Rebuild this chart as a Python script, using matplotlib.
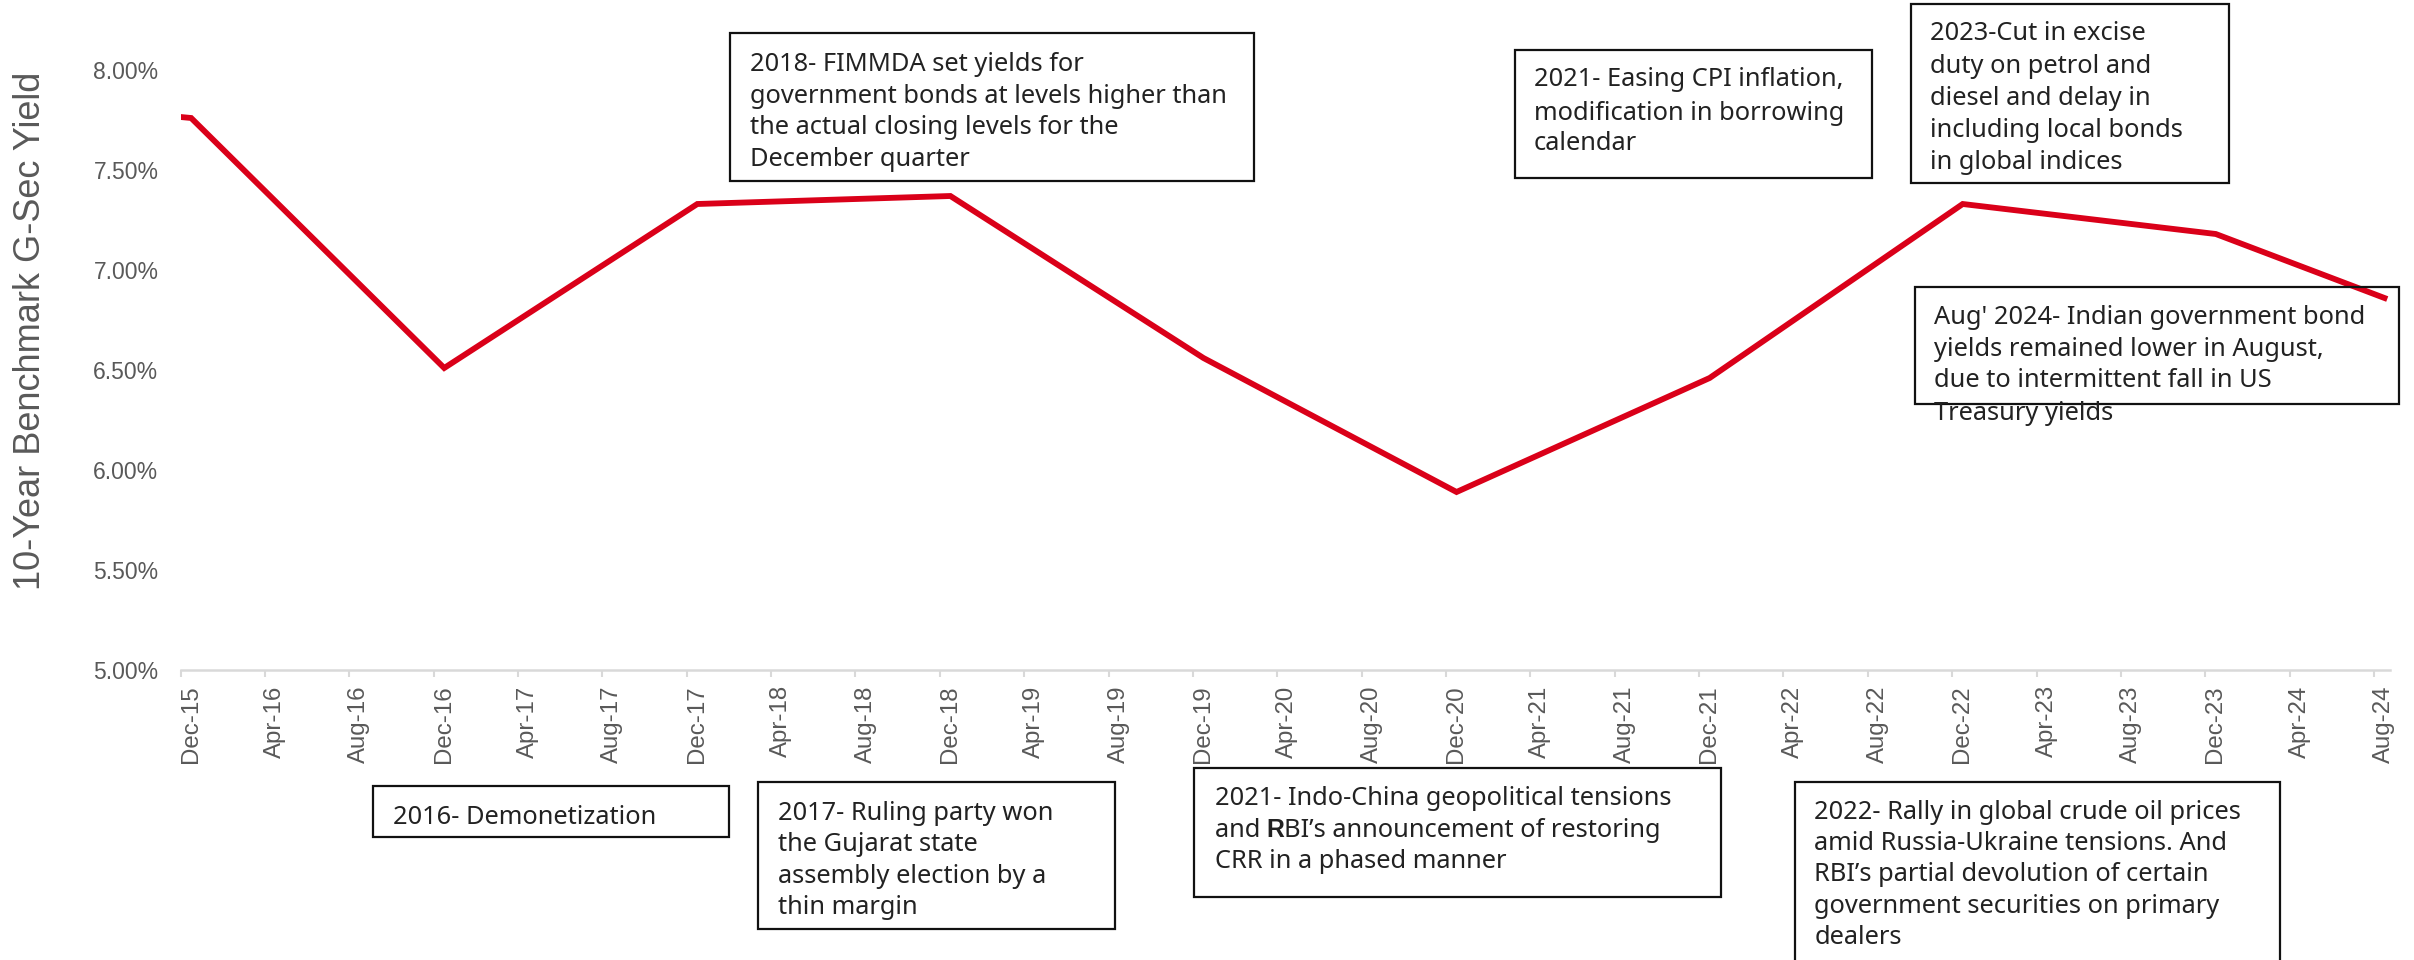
import matplotlib
matplotlib.use("Agg")
import matplotlib.pyplot as plt
from matplotlib.patches import Rectangle
from matplotlib.transforms import ScaledTranslation
import pandas as pd

# data (10-year benchmark G-Sec yield, %)
dates = ['Nov-15', 'Dec-15', 'Dec-16', 'Dec-17', 'Dec-18', 'Dec-19',
         'Dec-20', 'Dec-21', 'Dec-22', 'Dec-23', 'Aug-24']
yields = [7.77, 7.76, 6.51, 7.33, 7.37, 6.56, 5.89, 6.46, 7.33, 7.18, 6.86]

tick_dates = pd.date_range('2015-12-01', '2024-08-01', freq='4MS')
tick_labels = [d.strftime('%b-%y') for d in tick_dates]
y_ticks = [5.0, 5.5, 6.0, 6.5, 7.0, 7.5, 8.0]

notes_top = [
    ["2018- FIMMDA set yields for", "government bonds at levels higher than",
     "the actual closing levels for the", "December quarter"],
    ["2021- Easing CPI inflation,", "modification in borrowing", "calendar"],
    ["2023-Cut in excise", "duty on petrol and", "diesel and delay in",
     "including local bonds", "in global indices"],
    ["Aug' 2024- Indian government bond", "yields remained lower in August,",
     "due to intermittent fall in US", "Treasury yields"],
]
# a line given as a tuple is drawn in pieces, the middle piece in bold
notes_bottom = [
    ["2016- Demonetization"],
    ["2017- Ruling party won", "the Gujarat state",
     "assembly election by a", "thin margin"],
    ["2021- Indo-China geopolitical tensions",
     ("and ", "R", "BI\u2019s announcement of restoring"),
     "CRR in a phased manner"],
    ["2022- Rally in global crude oil prices",
     "amid Russia-Ukraine tensions. And",
     "RBI\u2019s partial devolution of certain",
     "government securities on primary", "dealers"],
]

W, H = 2414, 960
base = pd.Timestamp('2015-12-01')


def month_pos(d):
    d = pd.to_datetime(d, format='%b-%y') if isinstance(d, str) else d
    return (d.year - base.year) * 12 + (d.month - base.month)


x = [month_pos(d) + 0.5 for d in dates]
xt = [month_pos(d) for d in tick_dates]

fig = plt.figure(figsize=(W / 100, H / 100), dpi=100)
px_per_month = 21.09
xmax = 104.75
ax = fig.add_axes([180.6 / W, (H - 670) / H, xmax * px_per_month / W, 600 / H])

ax.plot(x, yields, color='#DA0019', lw=4.2, solid_joinstyle='miter')
ax.set_xlim(0, xmax)
ax.set_ylim(5, 8)

ax.set_xticks(xt)
ax.set_xticklabels(tick_labels, rotation=90, fontsize=17.3, color='#595959',
                   family='Liberation Sans')
ax.set_yticks(y_ticks)
ax.set_yticklabels(['{:.2f}%'.format(v) for v in y_ticks], fontsize=16.5,
                   color='#595959', family='Liberation Sans')
ax.tick_params(axis='x', length=5, width=1.5, color='#d9d9d9', pad=6)
ax.tick_params(axis='y', length=0, pad=16)
for lab in ax.get_xticklabels():
    lab.set_transform(lab.get_transform() + ScaledTranslation(0.1, 0, fig.dpi_scale_trans))

for s in ['top', 'right', 'left']:
    ax.spines[s].set_visible(False)
ax.spines['bottom'].set_color('#d9d9d9')
ax.spines['bottom'].set_linewidth(1.8)

fig.text(30.5 / W, 1 - 331 / H, '10-Year Benchmark G-Sec Yield', rotation=90,
         ha='center', va='center', fontsize=26, color='#595959',
         family='Liberation Sans')

NOTE_FS = 18.3
renderer = fig.canvas.get_renderer()


def note(box, text_x, line_ys, lines):
    x0, y0, x1, y1 = box
    fig.add_artist(Rectangle((x0 / W, 1 - y1 / H), (x1 - x0) / W, (y1 - y0) / H,
                             transform=fig.transFigure, fill=False,
                             edgecolor='#111111', lw=1.6, clip_on=False))
    for ly, t in zip(line_ys, lines):
        pieces = t if isinstance(t, tuple) else (t,)
        tx = text_x / W
        for i, p in enumerate(pieces):
            bold = isinstance(t, tuple) and i == 1
            txt = fig.text(tx, 1 - (ly + 9.5) / H, p, ha='left', va='baseline',
                           fontsize=NOTE_FS - (0.5 if bold else 0),
                           color='#222222',
                           family='Liberation Sans' if bold else 'Noto Sans',
                           fontweight='bold' if bold else 'normal')
            bb = txt.get_window_extent(renderer)
            tx = bb.x1 / W


note((730, 33, 1254, 181), 750, [61.7, 93.3, 125, 156.7], notes_top[0])
note((1514.5, 49.6, 1871.5, 178), 1534, [77, 110, 141], notes_top[1])
note((1911, 4, 2228.6, 182.7), 1930.4, [31, 63.4, 95.5, 127.6, 159.8], notes_top[2])
note((1915, 287, 2399, 404), 1934, [314.5, 346.6, 377.9, 410], notes_top[3])

note((372.7, 786, 729.3, 837.3), 392.6, [814.3], notes_bottom[0])
note((758.4, 782, 1115, 928.7), 778.3, [810, 841.7, 873.3, 905], notes_bottom[1])
note((1194.3, 767.7, 1720.7, 897), 1214.5, [795.7, 827.3, 859], notes_bottom[2])
note((1794.9, 782, 2280.2, 975), 1814.2, [809.3, 840, 871.7, 903.3, 935], notes_bottom[3])

fig.savefig('out.png', dpi=100)
